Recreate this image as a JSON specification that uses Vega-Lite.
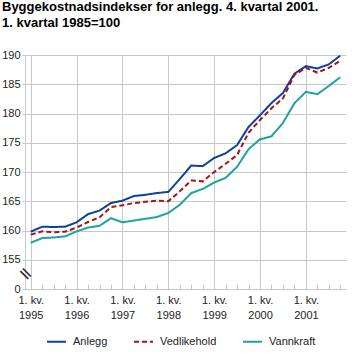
{
  "$schema": "https://vega.github.io/schema/vega-lite/v6.json",
  "width": 321,
  "height": 234,
  "autosize": {"type": "none"},
  "padding": {"left": 25, "top": 55, "right": 10, "bottom": 73},
  "title": {
    "text": ["Byggekostnadsindekser for anlegg. 4. kvartal 2001.", "1. kvartal 1985=100"],
    "anchor": "start",
    "frame": "group",
    "dx": -23,
    "offset": 19,
    "fontSize": 13,
    "fontWeight": "bold",
    "lineHeight": 16,
    "color": "#000000",
    "font": "Liberation Sans"
  },
  "config": {
    "view": {"stroke": null},
    "font": "Liberation Sans",
    "axis": {
      "domainColor": "#c8c8c8",
      "gridColor": "#c8c8c8",
      "tickColor": "#c8c8c8",
      "labelColor": "#222222",
      "labelFontSize": 11,
      "labelFont": "Liberation Sans"
    }
  },
  "data": {
    "values": [
      {"t": 0, "series": "Anlegg", "value": 159.8},
      {"t": 1, "series": "Anlegg", "value": 160.65},
      {"t": 2, "series": "Anlegg", "value": 160.6},
      {"t": 3, "series": "Anlegg", "value": 160.65},
      {"t": 4, "series": "Anlegg", "value": 161.4},
      {"t": 5, "series": "Anlegg", "value": 162.8},
      {"t": 6, "series": "Anlegg", "value": 163.4},
      {"t": 7, "series": "Anlegg", "value": 164.7},
      {"t": 8, "series": "Anlegg", "value": 165.1},
      {"t": 9, "series": "Anlegg", "value": 165.9},
      {"t": 10, "series": "Anlegg", "value": 166.1},
      {"t": 11, "series": "Anlegg", "value": 166.4},
      {"t": 12, "series": "Anlegg", "value": 166.6},
      {"t": 13, "series": "Anlegg", "value": 168.8},
      {"t": 14, "series": "Anlegg", "value": 171.1},
      {"t": 15, "series": "Anlegg", "value": 171.0},
      {"t": 16, "series": "Anlegg", "value": 172.4},
      {"t": 17, "series": "Anlegg", "value": 173.2},
      {"t": 18, "series": "Anlegg", "value": 174.6},
      {"t": 19, "series": "Anlegg", "value": 177.7},
      {"t": 20, "series": "Anlegg", "value": 179.7},
      {"t": 21, "series": "Anlegg", "value": 181.8},
      {"t": 22, "series": "Anlegg", "value": 183.5},
      {"t": 23, "series": "Anlegg", "value": 186.8},
      {"t": 24, "series": "Anlegg", "value": 188.1},
      {"t": 25, "series": "Anlegg", "value": 187.7},
      {"t": 26, "series": "Anlegg", "value": 188.4},
      {"t": 27, "series": "Anlegg", "value": 189.9},
      {"t": 0, "series": "Vedlikehold", "value": 159.3},
      {"t": 1, "series": "Vedlikehold", "value": 159.85},
      {"t": 2, "series": "Vedlikehold", "value": 159.7},
      {"t": 3, "series": "Vedlikehold", "value": 159.8},
      {"t": 4, "series": "Vedlikehold", "value": 160.5},
      {"t": 5, "series": "Vedlikehold", "value": 161.45},
      {"t": 6, "series": "Vedlikehold", "value": 162.25},
      {"t": 7, "series": "Vedlikehold", "value": 164.0},
      {"t": 8, "series": "Vedlikehold", "value": 164.3},
      {"t": 9, "series": "Vedlikehold", "value": 164.7},
      {"t": 10, "series": "Vedlikehold", "value": 164.9},
      {"t": 11, "series": "Vedlikehold", "value": 165.1},
      {"t": 12, "series": "Vedlikehold", "value": 165.0},
      {"t": 13, "series": "Vedlikehold", "value": 166.7},
      {"t": 14, "series": "Vedlikehold", "value": 168.55},
      {"t": 15, "series": "Vedlikehold", "value": 168.4},
      {"t": 16, "series": "Vedlikehold", "value": 170.0},
      {"t": 17, "series": "Vedlikehold", "value": 171.4},
      {"t": 18, "series": "Vedlikehold", "value": 172.9},
      {"t": 19, "series": "Vedlikehold", "value": 176.7},
      {"t": 20, "series": "Vedlikehold", "value": 178.9},
      {"t": 21, "series": "Vedlikehold", "value": 180.9},
      {"t": 22, "series": "Vedlikehold", "value": 182.6},
      {"t": 23, "series": "Vedlikehold", "value": 186.6},
      {"t": 24, "series": "Vedlikehold", "value": 187.8},
      {"t": 25, "series": "Vedlikehold", "value": 187.0},
      {"t": 26, "series": "Vedlikehold", "value": 187.8},
      {"t": 27, "series": "Vedlikehold", "value": 189.0},
      {"t": 0, "series": "Vannkraft", "value": 157.9},
      {"t": 1, "series": "Vannkraft", "value": 158.7},
      {"t": 2, "series": "Vannkraft", "value": 158.8},
      {"t": 3, "series": "Vannkraft", "value": 159.0},
      {"t": 4, "series": "Vannkraft", "value": 159.85},
      {"t": 5, "series": "Vannkraft", "value": 160.5},
      {"t": 6, "series": "Vannkraft", "value": 160.8},
      {"t": 7, "series": "Vannkraft", "value": 162.1},
      {"t": 8, "series": "Vannkraft", "value": 161.4},
      {"t": 9, "series": "Vannkraft", "value": 161.7},
      {"t": 10, "series": "Vannkraft", "value": 162.0},
      {"t": 11, "series": "Vannkraft", "value": 162.3},
      {"t": 12, "series": "Vannkraft", "value": 163.0},
      {"t": 13, "series": "Vannkraft", "value": 164.4},
      {"t": 14, "series": "Vannkraft", "value": 166.4},
      {"t": 15, "series": "Vannkraft", "value": 167.1},
      {"t": 16, "series": "Vannkraft", "value": 168.2},
      {"t": 17, "series": "Vannkraft", "value": 169.0},
      {"t": 18, "series": "Vannkraft", "value": 170.9},
      {"t": 19, "series": "Vannkraft", "value": 173.9},
      {"t": 20, "series": "Vannkraft", "value": 175.6},
      {"t": 21, "series": "Vannkraft", "value": 176.1},
      {"t": 22, "series": "Vannkraft", "value": 178.4},
      {"t": 23, "series": "Vannkraft", "value": 181.75},
      {"t": 24, "series": "Vannkraft", "value": 183.7},
      {"t": 25, "series": "Vannkraft", "value": 183.3},
      {"t": 26, "series": "Vannkraft", "value": 184.7},
      {"t": 27, "series": "Vannkraft", "value": 186.2}
    ]
  },
  "encoding": {
    "x": {
      "field": "t",
      "type": "quantitative",
      "scale": {"domain": [-0.5, 27.5], "nice": false, "zero": false},
      "axis": {
        "title": null,
        "values": [0,1,2,3,4,5,6,7,8,9,10,11,12,13,14,15,16,17,18,19,20,21,22,23,24,25,26,27],
        "labelExpr": "datum.value % 4 === 0 ? ['1. kv.', '' + (1995 + datum.value / 4)] : ''",
        "labelOverlap": false,
        "labelFlush": false,
        "labelLineHeight": 15,
        "labelPadding": 10,
        "tickSize": -5,
        "grid": true,
        "gridOpacity": {"condition": {"test": "datum.value % 4 === 0", "value": 1}, "value": 0}
      }
    },
    "y": {
      "field": "value",
      "type": "quantitative",
      "scale": {"domain": [150, 190], "nice": false, "zero": false},
      "axis": {
        "title": null,
        "values": [150, 155, 160, 165, 170, 175, 180, 185, 190],
        "labelExpr": "datum.value === 150 ? '0' : datum.label",
        "labelOverlap": false,
        "grid": true,
        "tickSize": 3,
        "labelPadding": 2
      }
    }
  },
  "layer": [
    {
      "mark": {"type": "line", "strokeWidth": 2},
      "encoding": {
        "color": {
          "field": "series",
          "type": "nominal",
          "scale": {"domain": ["Anlegg", "Vedlikehold", "Vannkraft"], "range": ["#0f3f9f", "#a31515", "#1ea3a0"]},
          "legend": {
            "title": null,
            "orient": "none",
            "direction": "horizontal",
            "legendX": 21,
            "legendY": 276,
            "symbolType": "stroke",
            "symbolSize": 361,
            "symbolStrokeWidth": 2,
            "labelFontSize": 11,
            "labelColor": "#222222",
            "labelOffset": 6,
            "columnPadding": 22
          }
        },
        "strokeDash": {
          "field": "series",
          "type": "nominal",
          "scale": {"domain": ["Anlegg", "Vedlikehold", "Vannkraft"], "range": [[1, 0], [5, 3], [1, 0]]},
          "legend": null
        }
      }
    },
    {
      "data": {"values": [{"t": -0.5, "value": 152.5, "txt": "="}]},
      "mark": {"type": "text", "angle": 45, "fontSize": 18, "color": "#222222", "font": "DejaVu Sans"},
      "encoding": {
        "text": {"field": "txt"}
      }
    }
  ]
}
